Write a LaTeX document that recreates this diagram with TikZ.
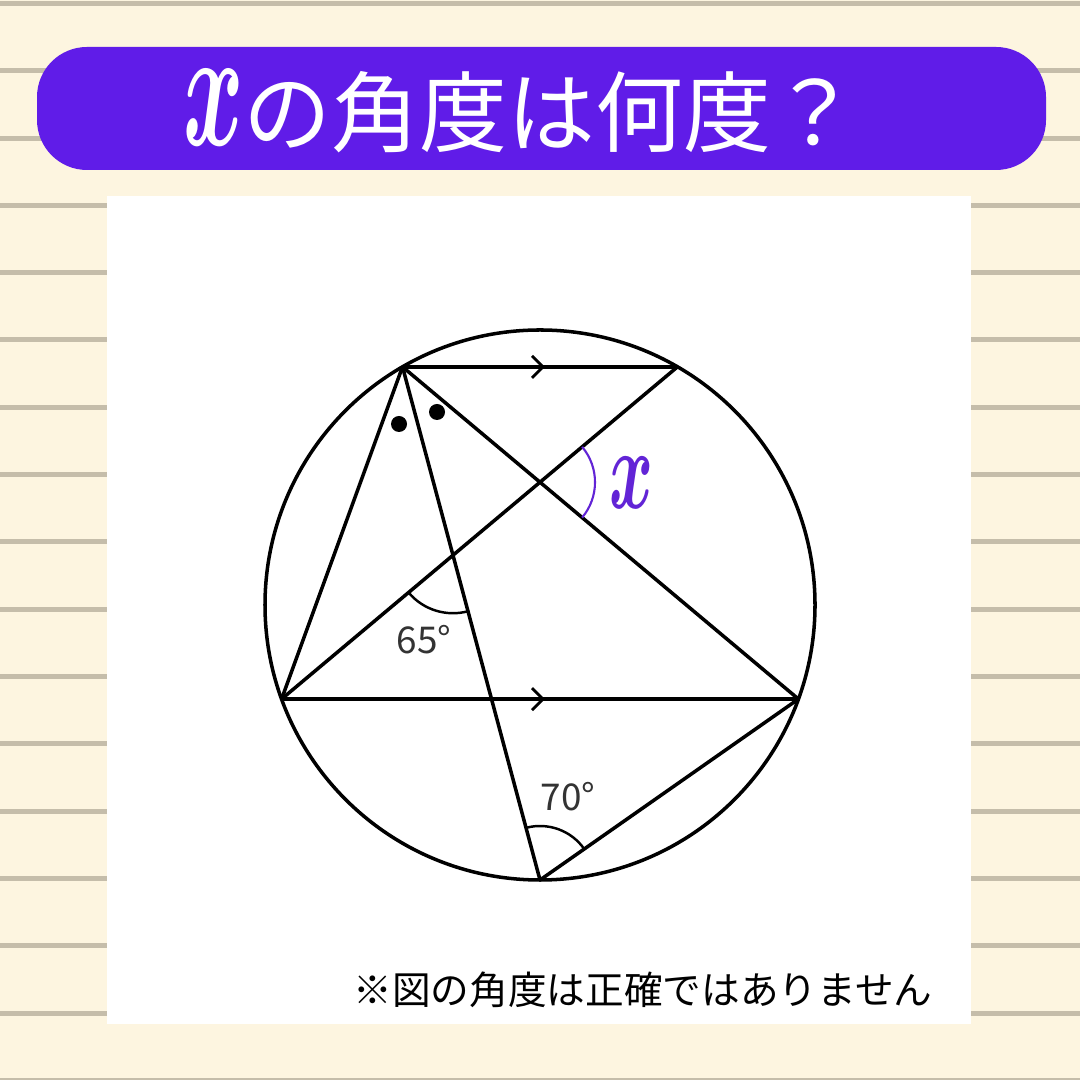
\documentclass[tikz,border=0pt]{standalone}
\usepackage{bm}
\usepackage{fontspec}
\newfontfamily\jpfont{Noto Sans CJK JP}
\usetikzlibrary{calc,intersections,angles}
\definecolor{cream}{RGB}{253,245,224}
\definecolor{ruled}{RGB}{197,189,170}
\definecolor{banner}{RGB}{96,28,232}
\definecolor{xpurple}{RGB}{98,36,214}

\begin{document}
\begin{tikzpicture}[
  geo/.style={line width=1pt,black},
  parmark/.style={line width=0.8pt,black},
  deglabel/.style={font=\jpfont\fontsize{10.5}{12}\selectfont,text=black!80},
]
\useasboundingbox (0,0) rectangle (10.8,10.8);
\fill[cream] (0,0) rectangle (10.8,10.8);
\foreach \k in {0,...,16}
  \draw[ruled,line width=0.05cm] (0,{10.765-0.673*\k}) -- (10.8,{10.765-0.673*\k});

\fill[white] (1.07,0.56) rectangle (9.71,8.84);
\fill[banner,rounded corners=0.5cm] (0.37,9.10) rectangle (10.46,10.33);
\node[text=white,font=\jpfont\fontsize{25}{28}\selectfont] (title) at (5.21,9.69)
  {\scalebox{1.05}[1.95]{$\bm{x}$}の角度は何度？};

\coordinate (O) at (5.40,4.75);
\draw[geo] (O) circle (2.75);
\path (O) +(120:2.75) coordinate (A) +(60:2.75) coordinate (B)
  +(200:2.75) coordinate (C) +(340:2.75) coordinate (D) +(270:2.75) coordinate (E);

\draw[geo] (A) -- (B);
\draw[geo] (C) -- (D);
\draw[geo] (A) -- (C);
\draw[geo] (E) -- (D);
\draw[geo,name path=ae] (A) -- (E);
\draw[geo,name path=ad] (A) -- (D);
\draw[geo,name path=bc] (B) -- (C);
\path[name intersections={of=ae and bc,by=P}];
\path[name intersections={of=ad and bc,by=Q}];

\draw[parmark] ($(A)!0.5!(B)+(-0.08,0.11)$) -- ++(0.11,-0.11) -- ++(-0.11,-0.11);
\draw[parmark] ($(C)!0.5!(D)+(-0.08,0.11)$) -- ++(0.11,-0.11) -- ++(-0.11,-0.11);

\fill (3.99,6.56) circle (0.08);
\fill (4.37,6.68) circle (0.08);

\pic[draw,line width=0.7pt,angle radius=0.58cm] {angle=C--P--E};
\pic[draw,line width=0.7pt,angle radius=0.54cm] {angle=D--E--A};
\pic[draw=xpurple,line width=0.6pt,angle radius=0.55cm] {angle=D--Q--B};

\node[deglabel] (a65) at (4.24,4.40) {65°};
\node[deglabel] (a70) at (5.68,2.83) {70°};
\node[text=xpurple,font=\fontsize{19}{24}\selectfont] (xlab) at (6.32,5.97)
  {\scalebox{1.1}[1.9]{$\bm{x}$}};

\node[font=\jpfont\fontsize{11}{13}\selectfont] (note) at (6.43,0.90)
  {※図の角度は正確ではありません};
\end{tikzpicture}
\end{document}
